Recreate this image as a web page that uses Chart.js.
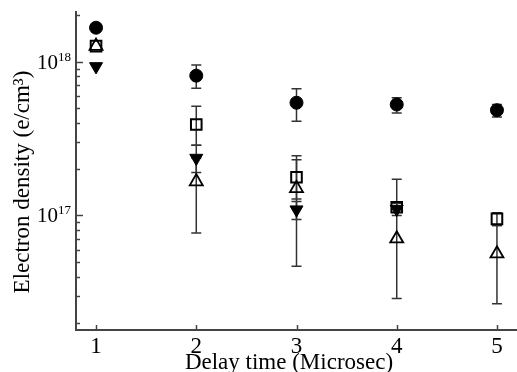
<!DOCTYPE html>
<html>
<head>
<meta charset="utf-8">
<script src="https://cdn.jsdelivr.net/npm/chart.js@4/dist/chart.umd.min.js"></script>
<style>
html, body { margin: 0; padding: 0; background: #fff; overflow: hidden; }
canvas { display: block; }
</style>
</head>
<body>
<canvas id="c" width="517" height="372"></canvas>
<script>
// Delay time (microsec)
const delays = [1, 2, 3, 4, 5];

// filled circles
const circleVals = [1.66e18, 8.1e17, 5.4e17, 5.26e17, 4.83e17];
const circleHi   = [1.66e18, 9.5e17, 6.66e17, 5.83e17, 5.26e17];
const circleLo   = [1.66e18, 6.7e17, 4.1e17, 4.64e17, 4.37e17];

// open squares
const squareVals = [1.26e18, 3.9e17, 1.77e17, 1.13e17, 9.5e16];
const squareHi   = [1.26e18, 5.13e17, 2.44e17, 1.72e17, 1.04e17];
const squareLo   = [1.26e18, 2.86e17, 1.28e17, 1.0e17, 8.6e16];

// filled down triangles
const downVals = [9.3e17, 2.36e17, 1.09e17, 1.1e17, null];
const downHi   = [9.3e17, 2.86e17, 1.23e17, 1.1e17, null];
const downLo   = [9.3e17, 1.9e17, 9.4e16, 1.1e17, null];

// open up triangles
const upVals = [1.26e18, 1.66e17, 1.5e17, 7.06e16, 5.64e16];
const upHi   = [1.26e18, 2.36e17, 2.3e17, 1.2e17, 8.6e16];
const upLo   = [1.26e18, 7.7e16, 4.67e16, 2.88e16, 2.67e16];

const yTickExps = [16, 17, 18];

function points(vals, hi, lo) {
    const out = [];
    vals.forEach((v, i) => {
        if (v == null) return;
        out.push({ x: delays[i], y: v, hi: hi[i], lo: lo[i] });
    });
    return out;
}

const serif = '"Liberation Serif", "DejaVu Serif", serif';

// error bars, drawn behind the markers
const errorBars = {
    id: 'errorBars',
    beforeDatasetsDraw(chart) {
        const { ctx, scales: { x, y } } = chart;
        ctx.save();
        ctx.strokeStyle = '#333';
        ctx.lineWidth = 1.5;
        chart.data.datasets.forEach(ds => {
            ds.data.forEach(p => {
                if (p.hi == null || p.hi === p.lo) return;
                const px = x.getPixelForValue(p.x);
                const top = y.getPixelForValue(p.hi);
                const bot = y.getPixelForValue(p.lo);
                ctx.beginPath();
                ctx.moveTo(px, top); ctx.lineTo(px, bot);
                ctx.moveTo(px - 5, top); ctx.lineTo(px + 5, top);
                ctx.moveTo(px - 5, bot); ctx.lineTo(px + 5, bot);
                ctx.stroke();
            });
        });
        ctx.restore();
    }
};

// inward ticks, 10^n labels and axis titles
const axisDecor = {
    id: 'axisDecor',
    afterDraw(chart) {
        const { ctx, chartArea: a, scales: { x, y } } = chart;
        ctx.save();
        ctx.strokeStyle = '#444';
        ctx.lineWidth = 1.5;
        y.ticks.forEach(t => {
            const py = Math.round(y.getPixelForValue(t.value)) + 0.5;
            ctx.beginPath();
            ctx.moveTo(a.left, py);
            ctx.lineTo(a.left + (t.major ? 7 : 4), py);
            ctx.stroke();
        });
        x.ticks.forEach(t => {
            const px = Math.round(x.getPixelForValue(t.value)) + 0.5;
            ctx.beginPath();
            ctx.moveTo(px, a.bottom);
            ctx.lineTo(px, a.bottom - 5);
            ctx.stroke();
        });

        ctx.fillStyle = '#000';
        ctx.textBaseline = 'alphabetic';
        yTickExps.forEach(e => {
            const v = Math.pow(10, e);
            if (v < y.min || v > y.max) return;
            const py = y.getPixelForValue(v);
            ctx.font = '13px ' + serif;
            const sup = String(e);
            const sw = ctx.measureText(sup).width;
            ctx.textAlign = 'right';
            ctx.fillText(sup, a.left - 5, py - 1);
            ctx.font = '21px ' + serif;
            ctx.fillText('10', a.left - 5 - sw, py + 7);
        });

        ctx.font = '23px ' + serif;
        ctx.textAlign = 'center';
        ctx.fillText('Delay time (Microsec)', 289, 369);

        ctx.translate(29, 182);
        ctx.rotate(-Math.PI / 2);
        ctx.fillText('Electron density (e/cm\u00B3)', 0, 0);
        ctx.restore();
    }
};

const ctx = document.getElementById('c').getContext('2d');
new Chart(ctx, {
    type: 'scatter',
    data: {
        datasets: [
            {
                label: 'circles',
                data: points(circleVals, circleHi, circleLo),
                pointStyle: 'circle', pointRadius: 6.5,
                backgroundColor: '#000', borderColor: '#000', borderWidth: 1
            },
            {
                label: 'down triangles',
                data: points(downVals, downHi, downLo),
                pointStyle: 'triangle', pointRotation: 180, pointRadius: 7.5,
                backgroundColor: '#000', borderColor: '#000', borderWidth: 1
            },
            {
                label: 'squares',
                data: points(squareVals, squareHi, squareLo),
                pointStyle: 'rect', pointRadius: 7.5,
                backgroundColor: 'rgba(0,0,0,0)', borderColor: '#000', borderWidth: 2
            },
            {
                label: 'up triangles',
                data: points(upVals, upHi, upLo),
                pointStyle: 'triangle', pointRadius: 7.5,
                backgroundColor: 'rgba(0,0,0,0)', borderColor: '#000', borderWidth: 1.8
            }
        ]
    },
    options: {
        responsive: false,
        animation: false,
        events: [],
        layout: { autoPadding: false, padding: { top: 12, right: 0, bottom: 0, left: 0 } },
        plugins: {
            legend: { display: false },
            tooltip: { enabled: false }
        },
        scales: {
            x: {
                type: 'linear',
                min: 0.8,
                max: 5.2,
                afterBuildTicks(scale) {
                    scale.ticks = delays.map(v => ({ value: v }));
                },
                afterFit(scale) {
                    scale.height = 42;
                    scale.paddingLeft = 0;
                    scale.paddingRight = 0;
                },
                grid: { display: false, drawTicks: false },
                border: { display: true, color: '#444', width: 2 },
                ticks: {
                    color: '#000',
                    padding: 3,
                    font: { family: serif, size: 23 }
                }
            },
            y: {
                type: 'logarithmic',
                min: 1.8e16,
                max: 2.1e18,
                afterBuildTicks(scale) {
                    const t = [];
                    yTickExps.forEach(e => {
                        for (let m = 1; m <= 9; m++) {
                            const v = m * Math.pow(10, e);
                            if (v >= scale.min && v <= scale.max) t.push({ value: v, major: m === 1 });
                        }
                    });
                    scale.ticks = t;
                },
                afterFit(scale) {
                    scale.width = 76;
                    scale.paddingTop = 0;
                    scale.paddingBottom = 0;
                },
                grid: { display: false },
                border: { display: true, color: '#444', width: 2 },
                ticks: { display: false }
            }
        }
    },
    plugins: [errorBars, axisDecor]
});
</script>
</body>
</html>
